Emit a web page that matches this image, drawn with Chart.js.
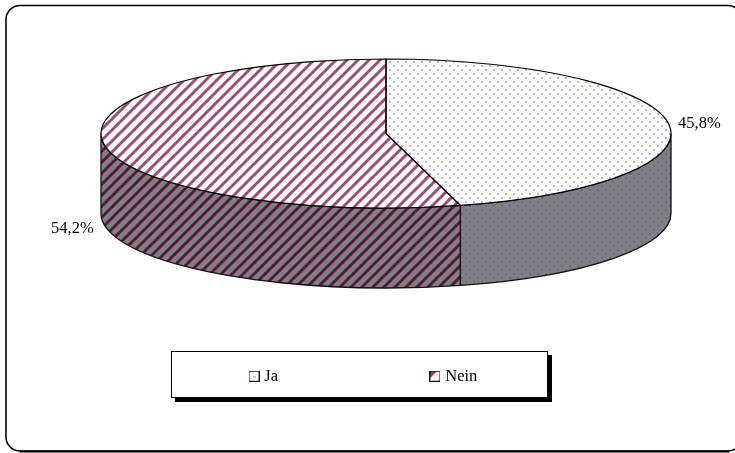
<!DOCTYPE html>
<html>
<head>
<meta charset="utf-8">
<style>
  html, body { margin: 0; padding: 0; background: #fff; }
  canvas { display: block; }
</style>
<script src="https://cdn.jsdelivr.net/npm/chart.js@4/dist/chart.umd.min.js"></script>
</head>
<body>
<canvas id="pie" width="735" height="453"></canvas>
<script>
const categories = ['Ja', 'Nein'];
const values = [45.8, 54.2];
const valueLabels = ['45,8%', '54,2%'];

// where the flattened pie sits on the page
const PIE_X = 386, PIE_Y = 133.5, RX = 285, RY = 74.5, DEPTH = 80;
const LABEL_POS = [[678, 128], [51, 233]];
const FONT = "16.5px 'Liberation Serif'";
const LEGEND_PAD = 155;

function tile(w, h, paint) {
    const c = document.createElement('canvas');
    c.width = w; c.height = h;
    paint(c.getContext('2d'));
    return c;
}
function dots(bg, color) {
    return tile(8, 8, g => {
        g.fillStyle = bg; g.fillRect(0, 0, 8, 8);
        g.fillStyle = color;
        [[2, 2], [6, 6]].forEach(p => { g.beginPath(); g.arc(p[0], p[1], 1.1, 0, Math.PI * 2); g.fill(); });
    });
}
function stripes(bg, color) {
    const s = 11;
    return tile(s, s, g => {
        g.fillStyle = bg; g.fillRect(0, 0, s, s);
        g.strokeStyle = color; g.lineWidth = 3;
        [-s, 0, s].forEach(o => { g.beginPath(); g.moveTo(o - 1, s + 1); g.lineTo(o + s + 1, -1); g.stroke(); });
    });
}
const ctx = document.getElementById('pie').getContext('2d');
const topFills = [ctx.createPattern(dots('#fff', '#a0a0ff'), 'repeat'), ctx.createPattern(stripes('#fff', '#a04a76'), 'repeat')];
const sideFills = [ctx.createPattern(dots('#808080', '#62629c'), 'repeat'), ctx.createPattern(stripes('#808080', '#55193c'), 'repeat')];

const markers = [
    tile(11, 11, g => {
        g.fillStyle = '#fff'; g.fillRect(0, 0, 11, 11);
        g.fillStyle = '#9999ff'; g.fillRect(5, 5, 2, 2);
        g.strokeStyle = '#1a1a33'; g.strokeRect(0.5, 0.5, 10, 10);
    }),
    tile(11, 11, g => {
        g.fillStyle = '#fff'; g.fillRect(0, 0, 11, 11);
        g.fillStyle = '#993366';
        g.beginPath(); g.moveTo(0, 0); g.lineTo(8, 0); g.lineTo(0, 8); g.fill();
        g.beginPath(); g.moveTo(11, 11); g.lineTo(8, 11); g.lineTo(11, 8); g.fill();
        g.strokeStyle = '#111'; g.strokeRect(0.5, 0.5, 10, 10);
    })
];

function sidePath(c, a0, a1) {
    c.beginPath();
    c.ellipse(PIE_X, PIE_Y, RX, RY, 0, a0, a1);
    c.ellipse(PIE_X, PIE_Y + DEPTH, RX, RY, 0, a1, a0, true);
    c.closePath();
}

const piePlugin = {
    id: 'flatPie',
    afterLayout(chart) {
        // legend frame position, the labels padding is also the gap between entries
        const lg = chart.legend;
        lg.left = 252 - LEGEND_PAD;
        lg.right = lg.left + 700;
        lg.top = 368 - LEGEND_PAD;
    },
    beforeDraw(chart) {
        const c = chart.ctx;
        c.save();
        c.strokeStyle = '#000';
        c.lineWidth = 1.6;
        c.beginPath();
        c.roundRect(6, 5.5, 736, 445.5, 14);
        c.stroke();
        c.lineWidth = 2;
        c.beginPath(); c.moveTo(20, 451.5); c.lineTo(729, 451.5); c.stroke();
        c.fillStyle = '#000';
        c.fillRect(175, 355, 377, 47);
        c.fillStyle = '#fff';
        c.fillRect(171.5, 351.5, 376, 46);
        c.lineWidth = 1;
        c.strokeRect(171.5, 351.5, 376, 46);
        c.restore();
    },
    beforeDatasetsDraw(chart) {
        const c = chart.ctx;
        const arcs = chart.getDatasetMeta(0).data;
        const k = RY / RX;
        c.save();
        // front wall, only the part of each slice below the horizontal axis shows
        arcs.forEach((arc, i) => {
            const a0 = Math.max(arc.startAngle, 0), a1 = Math.min(arc.endAngle, Math.PI);
            if (a1 <= a0) return;
            sidePath(c, a0, a1);
            c.fillStyle = sideFills[i];
            c.fill();
            c.strokeStyle = '#111';
            c.lineWidth = 1.3;
            c.stroke();
        });
        c.restore();
        // squash the slices and keep the hatching in page space
        const m = new DOMMatrix().translate(PIE_X, PIE_Y).scale(1, k).translate(-arcs[0].x, -arcs[0].y);
        topFills.forEach(p => p.setTransform(m.inverse()));
        c.save();
        c.setTransform(m);
    },
    afterDatasetsDraw(chart) {
        const c = chart.ctx;
        c.restore();
        const arcs = chart.getDatasetMeta(0).data;
        c.save();
        c.strokeStyle = '#000';
        c.lineWidth = 1.2;
        arcs.forEach(arc => {
            c.beginPath();
            c.moveTo(PIE_X, PIE_Y);
            c.ellipse(PIE_X, PIE_Y, RX, RY, 0, arc.startAngle, arc.endAngle);
            c.closePath();
            c.stroke();
        });
        c.fillStyle = '#000';
        c.font = FONT;
        c.textBaseline = 'alphabetic';
        valueLabels.forEach((t, i) => c.fillText(t, LABEL_POS[i][0], LABEL_POS[i][1]));
        c.restore();
    }
};

new Chart(ctx, {
    type: 'pie',
    data: {
        labels: categories,
        datasets: [{ data: values, backgroundColor: topFills, borderWidth: 0, radius: RX, clip: false }]
    },
    options: {
        responsive: false,
        animation: false,
        plugins: {
            tooltip: { enabled: false },
            legend: {
                position: 'bottom',
                align: 'start',
                labels: {
                    color: '#000',
                    font: { family: 'Liberation Serif', size: 16.5 },
                    padding: LEGEND_PAD,
                    usePointStyle: true,
                    pointStyleWidth: 4,
                    boxHeight: 10,
                    generateLabels: () => categories.map((name, i) => ({
                        text: name, pointStyle: markers[i], fontColor: '#000', lineWidth: 0, index: i, hidden: false
                    }))
                }
            }
        }
    },
    plugins: [piePlugin]
});
</script>
</body>
</html>
